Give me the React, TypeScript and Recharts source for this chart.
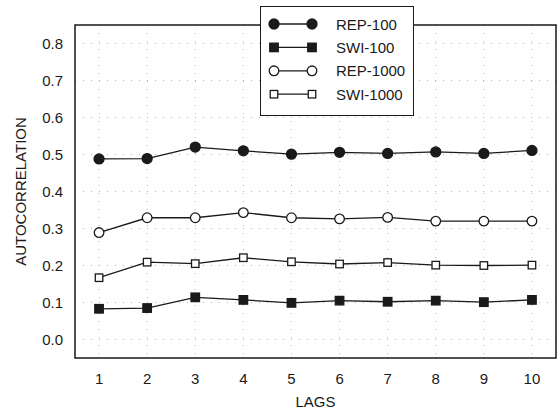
import React from 'react';
import { LineChart, Line, XAxis, YAxis, CartesianGrid, ReferenceArea } from 'recharts';

const lags = [1, 2, 3, 4, 5, 6, 7, 8, 9, 10];
const rep100 = [0.488, 0.489, 0.52, 0.51, 0.501, 0.506, 0.503, 0.507, 0.503, 0.511];
const swi100 = [0.083, 0.085, 0.114, 0.107, 0.099, 0.105, 0.102, 0.105, 0.101, 0.107];
const rep1000 = [0.289, 0.329, 0.329, 0.343, 0.329, 0.326, 0.33, 0.32, 0.32, 0.32];
const swi1000 = [0.167, 0.209, 0.205, 0.221, 0.21, 0.204, 0.208, 0.201, 0.2, 0.201];
const yTicks = [0, 0.1, 0.2, 0.3, 0.4, 0.5, 0.6, 0.7, 0.8];

const data = lags.map((lag, i) => ({
  lag,
  rep100: rep100[i],
  swi100: swi100[i],
  rep1000: rep1000[i],
  swi1000: swi1000[i],
}));

const FONT = '"Liberation Sans", Arial, Helvetica, sans-serif';
const INK = '#1a1a1a';

type Marker = 'circle' | 'square';

const series: { key: string; name: string; marker: Marker; filled: boolean }[] = [
  { key: 'rep100', name: 'REP-100', marker: 'circle', filled: true },
  { key: 'swi100', name: 'SWI-100', marker: 'square', filled: true },
  { key: 'rep1000', name: 'REP-1000', marker: 'circle', filled: false },
  { key: 'swi1000', name: 'SWI-1000', marker: 'square', filled: false },
];

const markerShape = (marker: Marker, filled: boolean, cx: number, cy: number, key?: any) => {
  const fill = filled ? INK : '#fff';
  if (marker === 'circle') {
    return <circle key={key} cx={cx} cy={cy} r={filled ? 5 : 4.8} fill={fill} stroke={INK} strokeWidth={1.3} />;
  }
  const s = filled ? 8.5 : 7.5;
  return <rect key={key} x={cx - s / 2} y={cy - s / 2} width={s} height={s} fill={fill} stroke={INK} strokeWidth={1.3} />;
};

const YLabel = () => {
  const cy = 191.5;
  const cx = 20.5;
  return (
    <text x={cx} y={cy} transform={`rotate(-90 ${cx} ${cy})`} textAnchor="middle" dominantBaseline="central"
      fontSize={15} fontFamily={FONT} fill={INK}>
      AUTOCORRELATION
    </text>
  );
};

const App: React.FC = () => {
  return (
    <div style={{ position: 'absolute', left: 0, top: 0, width: 557, height: 415, background: '#fff', fontFamily: FONT }}>
      <LineChart width={557} height={415} data={data} margin={{ top: 25, right: 1, bottom: 0, left: 0 }}>
        <CartesianGrid stroke="#b5b5b5" strokeDasharray="1 7" />
        <XAxis
          dataKey="lag"
          type="number"
          domain={[0.5, 10.5]}
          ticks={lags}
          allowDataOverflow
          axisLine={false}
          tickLine={false}
          tickSize={0}
          tickMargin={15}
          height={57}
          tick={{ fontSize: 15, fill: INK, fontFamily: FONT }}
          label={{ value: 'LAGS', position: 'insideBottom', offset: 8, fontSize: 15, fill: INK, fontFamily: FONT }}
        />
        <YAxis
          type="number"
          domain={[-0.05, 0.85]}
          ticks={yTicks}
          allowDataOverflow
          axisLine={false}
          tickLine={false}
          tickSize={0}
          tickMargin={12}
          width={75}
          tickFormatter={(v: number) => v.toFixed(1)}
          tick={{ fontSize: 15, fill: INK, fontFamily: FONT }}
          label={{ content: YLabel }}
        />
        <ReferenceArea x1={0.5} x2={10.5} y1={-0.05} y2={0.85} fill="none" stroke={INK} strokeWidth={1.5} />
        {series.map((s) => (
          <Line
            key={s.key}
            dataKey={s.key}
            name={s.name}
            stroke={INK}
            strokeWidth={1.3}
            isAnimationActive={false}
            dot={(p: any) => markerShape(s.marker, s.filled, p.cx, p.cy, `${s.key}-${p.index}`)}
            activeDot={false}
          />
        ))}
      </LineChart>
      <div
        style={{
          position: 'absolute',
          left: 260,
          top: 6,
          width: 152,
          height: 108,
          background: '#fff',
          border: `1.5px solid ${INK}`,
        }}
      >
        <svg width={152} height={108}>
          {series.map((s, i) => {
            const y = 17 + i * 23.4;
            return (
              <g key={s.key}>
                <line x1={13} x2={51} y1={y} y2={y} stroke={INK} strokeWidth={1.3} />
                {markerShape(s.marker, s.filled, 13, y)}
                {markerShape(s.marker, s.filled, 51, y)}
                <text x={75} y={y} dominantBaseline="central" fontSize={15} fontFamily={FONT} fill={INK}>
                  {s.name}
                </text>
              </g>
            );
          })}
        </svg>
      </div>
    </div>
  );
};

export default App;
